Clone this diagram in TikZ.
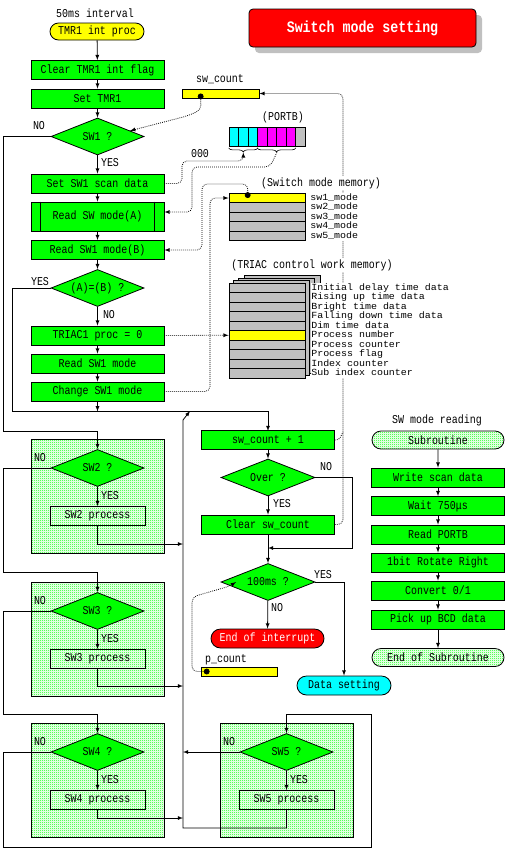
\documentclass[tikz,border=0pt]{standalone}
\usepackage{fontspec}
\setmainfont[FakeStretch=0.83]{Liberation Mono}
\usepackage{tikz}
\usetikzlibrary{arrows,shapes.geometric,shapes.misc,patterns,shadows,decorations.pathreplacing}

\definecolor{aqua}{RGB}{0,255,255}
\definecolor{fuchsia}{RGB}{255,0,255}
\definecolor{lemon}{RGB}{255,255,0}
\definecolor{lime}{RGB}{0,255,0}
\definecolor{silver}{RGB}{192,192,192}

\pgfdeclarepatternformonly{finecheck}{\pgfpointorigin}{\pgfqpoint{2pt}{2pt}}{\pgfqpoint{2pt}{2pt}}{%
  \pgfpathrectangle{\pgfpointorigin}{\pgfqpoint{1pt}{1pt}}%
  \pgfpathrectangle{\pgfqpoint{1pt}{1pt}}{\pgfqpoint{1pt}{1pt}}%
  \pgfusepath{fill}}

\begin{document}
\begin{tikzpicture}[x=1pt,y=-1pt,line width=0.8pt,>=latex,font=\fontsize{12}{12}\selectfont]
                \tikzstyle{box}=[rectangle,draw=black,fill=lime,minimum width=133pt,minimum height=19pt,inner sep=0pt]
                \tikzstyle{dec}=[diamond,draw=black,fill=lime,minimum width=93pt,minimum height=37pt,inner sep=0pt,aspect=2.5]
                \tikzstyle{term}=[rounded rectangle,draw=black,minimum height=18pt,inner sep=0pt]
                \tikzstyle{check}=[pattern=finecheck,pattern color=lime]
                \tikzstyle{proc}=[rectangle,draw=black,minimum width=95pt,minimum height=19pt,inner sep=0pt]
                \tikzstyle{cell}=[rectangle,draw=black,fill=silver,minimum width=76pt,minimum height=9.5pt,inner sep=0pt]
                \tikzstyle{bar}=[rectangle,draw=black,fill=lemon,minimum width=76pt,minimum height=9pt,inner sep=0pt]
                \tikzstyle{link}=[dash pattern=on 0.8pt off 1.2pt]
                \tikzstyle{memo}=[fill=white,inner sep=0.5pt,text height=7pt,text depth=2pt,anchor=west]
                \path[use as bounding box,fill=white] (0,0) rectangle (506,849);

                % SW2..SW5 blocks
                \foreach \n/\x/\y in {2/97.5/468, 3/97.5/611, 4/97.5/752, 5/286.5/752} {
                        \path[draw=black,check] ({\x-66.5},{\y-29}) rectangle ({\x+66.5},{\y+85});
                        \node[dec] (SW-\n) at (\x,\y) {SW\n\ ?};
                        \node[proc] (SWP-\n) at (\x,{\y+48}) {SW\n\ process};
                        \draw[->] (SW-\n) -- (SWP-\n);
                        \node at ({\x-57.5},{\y-10}) {NO};
                        \node at ({\x+12.5},{\y+28}) {YES};
                }

                % main flow
                \node at (95,13) {50ms interval};
                \node[term,fill=lemon,minimum width=94pt,minimum height=17pt] (M-1) at (97,31.5) {TMR1 int proc};
                \foreach \num/\y/\txt in {2/70/Clear TMR1 int flag, 3/98.5/Set TMR1, 4/183.5/Set SW1 scan data, 6/250/Read SW1 mode(B), 7/335.5/TRIAC1 proc = 0, 8/363.5/Read SW1 mode, 9/391.5/Change SW1 mode}
                        \node[box] (M-\num) at (97.5,\y) {\txt};
                \node[box,minimum height=29pt] (M-5) at (97.5,216.5) {Read SW mode(A)};
                \draw ([xshift=10pt]M-5.north west) -- ([xshift=10pt]M-5.south west);
                \draw ([xshift=-10pt]M-5.north east) -- ([xshift=-10pt]M-5.south east);
                \node[dec] (SW-1) at (97.5,136.5) {SW1 ?};
                \node[dec] (AB) at (97.5,288) {(A)=(B) ?};

                \foreach \from/\to in {1/2, 2/3, 4/5, 5/6, 7/8, 8/9}
                        \draw[->] (M-\from) -- (M-\to);
                \draw[->] (M-3) -- (SW-1);
                \draw[->] (SW-1) -- (M-4);
                \draw[->] (M-6) -- (AB);
                \draw[->] (AB) -- (M-7);
                \draw[->] (M-9.south) -- ++(0,10);
                \node at (39,126) {NO};
                \node at (110,163) {YES};
                \node at (40,282) {YES};
                \node at (109,315) {NO};

                \foreach \a/\b/\ya/\yb in {1/2/136.5/431, 2/3/468/572, 3/4/611/714}
                        \draw[->] (SW-\a.west) -- (3,\ya) -- (3,\yb) -- (97.5,\yb) -- (SW-\b.north);
                \draw[->] (SW-4.west) -- (3,752) -- (3,847) -- (371,847) -- (371,714) -- (286.5,714) -- (SW-5.north);
                \foreach \n/\y in {2/544, 3/686, 4/818}
                        \draw[->] (SWP-\n.south) -- (97.5,\y) -- (183,\y);
                \draw[->] (SW-5.west) -- (183,752);
                \draw[->] (SWP-5.south) -- (286.5,828) -- (183,828) -- (183,420) -- (190,411);
                \draw[->] (AB.west) -- (12,288) -- (12,411) -- (268,411) -- (268,431);

                % counter part
                \node[box] (CNT) at (268,440) {sw\_count + 1};
                \node[dec,minimum width=94pt] (OVR) at (268,477.5) {Over ?};
                \node[box] (CLR) at (268,524.5) {Clear sw\_count};
                \node[dec,minimum width=94pt] (MS) at (268,582) {100ms ?};
                \node[term,fill=red,text=white,minimum width=113pt,minimum height=19pt] (END) at (267.5,638.5) {End of interrupt};
                \node[term,fill=aqua,minimum width=94pt,minimum height=19pt] (DAT) at (344,685.5) {Data setting};
                \node at (226,660) {p\_count};
                \node[bar] (PC) at (239,671.5) {};
                \draw[->] (CNT) -- (OVR);
                \draw[->] (OVR) -- (CLR);
                \draw[->] (CLR) -- (MS);
                \draw[->] (OVR.east) -- (352,477.5) -- (352,548) -- (268,548);
                \draw[->] (MS) -- (END);
                \draw[->] (MS.east) -| (DAT.north);
                \node at (326,467) {NO};
                \node at (282,504) {YES};
                \node at (323,575) {YES};
                \node at (277,608) {NO};

                % subroutine
                \node at (437,420) {SW mode reading};
                \node[term,check,minimum width=132pt] (R-1) at (438,440) {Subroutine};
                \foreach \num/\y/\txt in {2/477.5/{Write scan data}, 3/506/{Wait 750μs}, 4/534.5/{Read PORTB}, 5/562.5/{1bit Rotate Right}, 6/590.5/{Convert 0/1}, 7/619.5/{Pick up BCD data}}
                        \node[box] (R-\num) at (438,\y) {\txt};
                \node[term,check,minimum width=132pt] (R-8) at (438,657.5) {End of Subroutine};
                \foreach \from/\to in {1/2, 2/3, 3/4, 4/5, 5/6, 6/7, 7/8}
                        \draw[->] (R-\from) -- (R-\to);

                % title
                \node[rectangle,rounded corners=4pt,draw=black,fill=red,text=white,minimum width=227pt,minimum height=38pt,
                      drop shadow={shadow xshift=6pt,shadow yshift=-6pt,fill=silver,opacity=1},
                      font=\fontsize{16}{16}\selectfont\bfseries] (TTL) at (362.5,28) {Switch mode setting};

                % registers and memory
                \node at (220,79) {sw\_count};
                \node[bar,minimum width=77pt] (SWC) at (220.5,93.5) {};
                \node at (283,117) {(PORTB)};
                \foreach \i/\c in {1/aqua, 2/aqua, 3/aqua, 4/fuchsia, 5/fuchsia, 6/fuchsia, 7/fuchsia, 8/silver}
                        \node[cell,fill=\c,minimum width=9.5pt,minimum height=19pt] (P-\i) at ({224.25+9.5*\i},136.5) {};
                \draw[line width=0.6pt,decorate,decoration={brace,mirror,amplitude=4pt}] ([yshift=-1.5pt]P-1.south west) -- ([yshift=-1.5pt]P-3.south east);
                \draw[line width=0.6pt,decorate,decoration={brace,mirror,amplitude=4pt}] ([yshift=-1.5pt]P-4.south west) -- ([yshift=-1.5pt]P-7.south east);
                \coordinate (BR-1) at ([yshift=-6pt]P-2.south);
                \coordinate (BR-2) at ([yshift=-6pt]P-5.south east);
                \node at (200,154) {000};

                \foreach \i/\c in {1/lemon, 2/silver, 3/silver, 4/silver, 5/silver}
                        \node[cell,fill=\c,minimum height=9.4pt] (S-\i) at (267,{188.6+9.4*\i}) {};
                \foreach \dx/\dy in {15/7.5, 9/5, 4/2.5}
                        \draw[fill=silver] ({229+\dx},{283-\dy}) rectangle ({305+\dx},{378-\dy});
                \foreach \i/\c in {1/silver, 2/silver, 3/silver, 4/silver, 5/silver, 6/lemon, 7/silver, 8/silver, 9/silver, 10/silver}
                        \node[cell,fill=\c] (T-\i) at (267,{278.25+9.5*\i}) {};

                % data links
                \draw[link,*-latex,rounded corners=5pt] ([xshift=19pt]SWC.west) -- (201,110) -- (187,116) -- (SW-1.10);
                \draw[link,-latex,rounded corners=5pt] (M-4.east) -- (182,183.5) -- (182,161) -- (243.4,161) -- (BR-1);
                \draw[link,-latex,rounded corners=5pt] (BR-2) -- (270,167) -- (192,167) -- (192,212) -- ([yshift=4.5pt]M-5.east);
                \draw[link,*-latex,rounded corners=5pt] ([xshift=19pt]S-1.west) -- (248,184) -- (202,184) -- (202,250) -- (M-6.east);
                \draw[link,-latex,rounded corners=5pt] (M-9.east) -- (210,391.5) -- (210,198) -- (S-1.west);
                \draw[link,-latex] (M-7.east) -- (T-6.west);
                \draw[link,-latex,rounded corners=5pt] (CLR.east) -- (343,524.5) -- (343,93.5) -- (SWC.east);
                \draw[link,rounded corners=3pt] (CNT.east) -- (339,440) -- (343,432);
                \draw[link,*-latex,rounded corners=5pt] ([xshift=9pt]PC.west) -- (192,671.5) -- (192,597) -- (230,586) -- ([xshift=-32pt]MS.center);

                \foreach \i in {1,...,5}
                        \node[memo] at ([xshift=4pt]S-\i.east) {\scalebox{1}[0.78]{sw\i\_mode}};
                \foreach \i/\txt in {1/Initial delay time data, 2/Rising up time data, 3/Bright time data, 4/Falling down time data, 5/Dim time data, 6/Process number, 7/Process counter, 8/Process flag, 9/Index counter, 10/Sub index counter}
                        \node[memo] at ([xshift=5pt]T-\i.east) {\scalebox{1}[0.78]{\txt}};
                \node[fill=white,inner sep=1pt] at (321,183) {(Switch mode memory)};
                \node[fill=white,inner sep=1pt] at (312,265) {(TRIAC control work memory)};

                % \draw[link] (T-10.south) -- ++(0,10);
\end{tikzpicture}
\end{document}
